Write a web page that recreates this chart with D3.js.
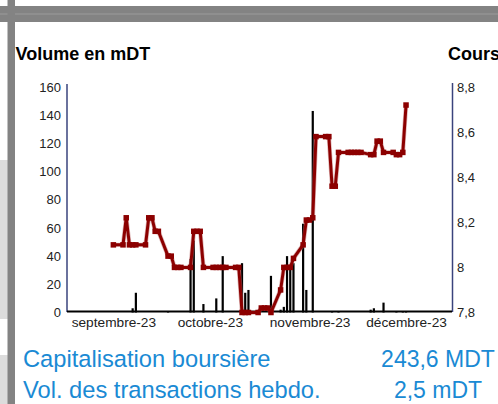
<!DOCTYPE html>
<html><head><meta charset="utf-8">
<script src="https://cdn.jsdelivr.net/npm/d3@7"></script>
<style>body{margin:0;background:#fff}svg{display:block}text{font-family:"Liberation Sans",Arial,sans-serif}</style>
</head><body>
<script>
// ---- data ----
const volDates = ["2023-09-07","2023-09-08","2023-09-18","2023-09-25","2023-09-26","2023-09-29","2023-10-03","2023-10-05","2023-10-11","2023-10-12","2023-10-13","2023-10-20","2023-10-23","2023-10-24","2023-10-25","2023-10-26","2023-10-27","2023-10-30","2023-10-31","2023-11-02","2023-11-08","2023-11-10","2023-11-20","2023-11-21","2023-11-24","2023-11-28","2023-11-30","2023-12-01"];
const volValues = [3,14,1,38,51,6,10,40,35,14,16,26,2,4,40,33,35,63,16,143,1,1,2,3,7,1,1,1];
const priceDates = ["2023-09-01","2023-09-04","2023-09-05","2023-09-06","2023-09-07","2023-09-08","2023-09-11","2023-09-12","2023-09-13","2023-09-14","2023-09-15","2023-09-18","2023-09-19","2023-09-20","2023-09-21","2023-09-22","2023-09-25","2023-09-26","2023-09-27","2023-09-28","2023-09-29","2023-10-02","2023-10-03","2023-10-04","2023-10-05","2023-10-06","2023-10-09","2023-10-10","2023-10-11","2023-10-12","2023-10-13","2023-10-16","2023-10-17","2023-10-18","2023-10-19","2023-10-20","2023-10-23","2023-10-24","2023-10-25","2023-10-26","2023-10-27","2023-10-30","2023-10-31","2023-11-01","2023-11-02","2023-11-03","2023-11-06","2023-11-07","2023-11-08","2023-11-09","2023-11-10","2023-11-13","2023-11-14","2023-11-15","2023-11-16","2023-11-17","2023-11-20","2023-11-21","2023-11-22","2023-11-23","2023-11-24","2023-11-27","2023-11-28","2023-11-29","2023-11-30","2023-12-01"];
const priceValues = [8.10,8.10,8.22,8.10,8.10,8.10,8.10,8.22,8.22,8.16,8.16,8.05,8.05,8.00,8.00,8.00,8.00,8.16,8.16,8.16,8.00,8.00,8.00,8.00,8.00,8.00,8.00,8.00,7.80,7.80,7.80,7.80,7.82,7.82,7.82,7.80,7.90,8.00,8.00,8.00,8.04,8.10,8.21,8.21,8.22,8.58,8.58,8.58,8.36,8.36,8.51,8.51,8.51,8.51,8.51,8.51,8.50,8.50,8.56,8.56,8.51,8.51,8.50,8.50,8.51,8.72];
const volTicks = [0,20,40,60,80,100,120,140,160];
const priceTicks = [7.8,8,8.2,8.4,8.6,8.8];
const priceTickLabels = ["7,8","8","8,2","8,4","8,6","8,8"];
const monthTicks = ["2023-09-01","2023-10-01","2023-11-01","2023-12-01"];
const monthLabels = ["septembre-23","octobre-23","novembre-23","décembre-23"];
const infoLabels = ["Capitalisation boursière","Vol. des transactions hebdo."];
const infoValues = ["243,6 MDT","2,5 mDT"];

const parse = d3.timeParse("%Y-%m-%d");
const W = 498, H = 404;
const svg = d3.select("body").append("svg").attr("width", W).attr("height", H);
svg.append("rect").attr("width", W).attr("height", H).attr("fill", "#fff");

// frame decorations
svg.append("rect").attr("x",0).attr("y",160).attr("width",8).attr("height",159).attr("fill","#dcdcdc");
svg.append("rect").attr("x",0).attr("y",355).attr("width",8).attr("height",49).attr("fill","#dcdcdc");
svg.append("rect").attr("x",0).attr("y",6).attr("width",W).attr("height",16).attr("fill","#838383");
svg.append("rect").attr("x",0).attr("y",13.5).attr("width",W).attr("height",1).attr("fill","#9c9c9c");
svg.append("rect").attr("x",7.5).attr("y",0).attr("width",7.5).attr("height",H).attr("fill","#838383");

// scales
const x = d3.scaleTime().domain([new Date(2023,7,17,14), new Date(2023,11,15,7)]).range([67, 452]);
const yV = d3.scaleLinear().domain([0,160]).range([312.5, 87]);
const yP = d3.scaleLinear().domain([7.8,8.8]).range([312.5, 87]);

// titles
svg.append("text").attr("x",15.5).attr("y",60).attr("font-size",18).attr("font-weight","bold").attr("fill","#000").text("Volume en mDT");
svg.append("text").attr("x",448).attr("y",60).attr("font-size",18).attr("font-weight","bold").attr("fill","#000").text("Cours");

// bars
const volData = volDates.map((d,i)=>({date:parse(d), v:volValues[i]}));
svg.append("g").selectAll("rect").data(volData).join("rect")
  .attr("x", d=>x(d.date)-1.1).attr("width",2.2)
  .attr("y", d=>yV(d.v)).attr("height", d=>yV(0)-yV(d.v))
  .attr("fill","#000");

// axes
const gl = svg.append("g").attr("transform","translate(67,0)")
  .call(d3.axisLeft(yV).tickValues(volTicks).tickSize(0).tickPadding(6).tickFormat(d3.format("d")));
gl.select(".domain").remove();
gl.selectAll("text").attr("font-size",13).attr("fill","#222").attr("font-family","Liberation Sans, Arial, sans-serif");
svg.append("line").attr("x1",67).attr("x2",67).attr("y1",84).attr("y2",312).attr("stroke","#3a437c").attr("stroke-width",1.5);

const gr = svg.append("g").attr("transform","translate(452,0)")
  .call(d3.axisRight(yP).tickValues(priceTicks).tickSize(0).tickPadding(5).tickFormat((d,i)=>priceTickLabels[i]));
gr.select(".domain").remove();
gr.selectAll("text").attr("font-size",13).attr("fill","#222").attr("font-family","Liberation Sans, Arial, sans-serif");
svg.append("line").attr("x1",452.5).attr("x2",452.5).attr("y1",83).attr("y2",312).attr("stroke","#3a437c").attr("stroke-width",1.5);

const gb = svg.append("g").attr("transform","translate(0,312)")
  .call(d3.axisBottom(x).tickValues(monthTicks.map(parse)).tickSize(0).tickPadding(5).tickFormat((d,i)=>monthLabels[i]));
gb.select(".domain").remove();
gb.selectAll("text").attr("font-size",13.7).attr("fill","#222").attr("font-family","Liberation Sans, Arial, sans-serif");
svg.append("line").attr("x1",67).attr("x2",452).attr("y1",311.5).attr("y2",311.5).attr("stroke","#000").attr("stroke-width",2);

// price line
const priceData = priceDates.map((d,i)=>({date:parse(d), v:priceValues[i]}));
const lineGen = d3.line().x(d=>x(d.date)).y(d=>yP(d.v));
svg.append("path").datum(priceData)
  .attr("d", lineGen)
  .attr("fill","none").attr("stroke","#c07070").attr("stroke-width",4.4).attr("stroke-opacity",0.5).attr("stroke-linejoin","round");
svg.append("path").datum(priceData)
  .attr("d", lineGen)
  .attr("fill","none").attr("stroke","#8c0000").attr("stroke-width",3).attr("stroke-linejoin","round");
svg.append("g").selectAll("rect").data(priceData).join("rect")
  .attr("x", d=>x(d.date)-2.75).attr("y", d=>yP(d.v)-2.75).attr("width",5.5).attr("height",5.5).attr("fill","#8c0000");

// info lines
const blue = "#1a8ad4";
infoLabels.forEach((t,i)=>{
  svg.append("text").attr("x",23).attr("y",366.5+31.5*i).attr("font-size",23.7).attr("fill",blue).text(t);
  svg.append("text").attr("x",438).attr("y",366.5+31.5*i).attr("font-size",23).attr("fill",blue).attr("text-anchor","middle").text(infoValues[i]);
});
</script>
</body></html>
